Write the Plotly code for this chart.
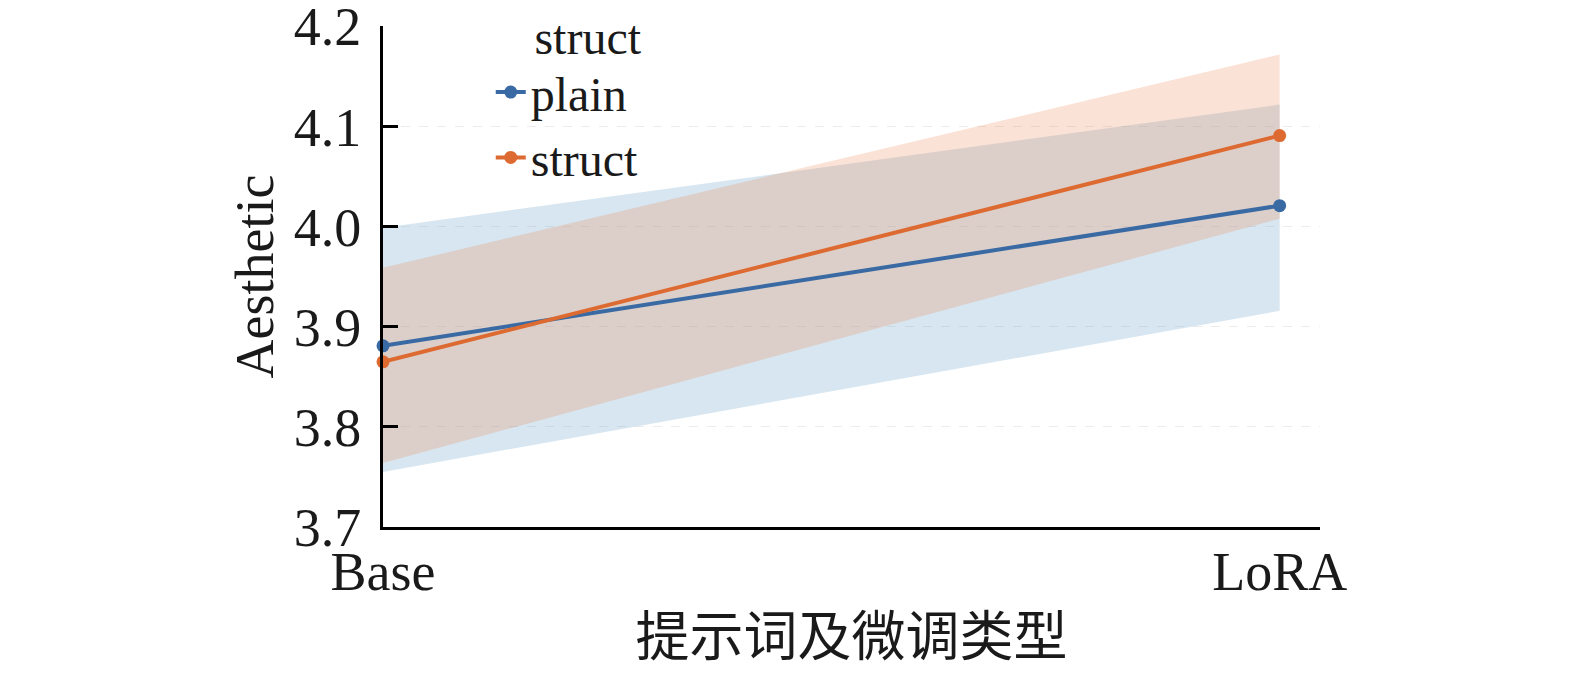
import plotly.graph_objects as go

categories = ["Base", "LoRA"]
x_pos = [0, 1]
plain_mean = [3.881, 4.021]
plain_low = [3.755, 3.916]
plain_high = [3.999, 4.122]
struct_mean = [3.865, 4.091]
struct_low = [3.764, 4.008]
struct_high = [3.959, 4.172]
y_ticks = [3.7, 3.8, 3.9, 4.0, 4.1, 4.2]
y_ticktext = ["3.7", "3.8", "3.9", "4.0", "4.1", "4.2"]

BLUE = "#3a6aa3"
ORANGE = "#dd6a30"
BLUE_FILL = "rgba(110,165,200,0.28)"
ORANGE_FILL = "rgba(238,135,85,0.24)"
FONT = "Liberation Serif, Times New Roman, Noto Sans CJK SC, serif"

fig = go.Figure()

# bands
fig.add_trace(go.Scatter(x=x_pos, y=plain_high, mode="lines", line=dict(width=0),
                         showlegend=False, hoverinfo="skip"))
fig.add_trace(go.Scatter(x=x_pos, y=plain_low, mode="lines", line=dict(width=0),
                         fill="tonexty", fillcolor=BLUE_FILL, showlegend=False, hoverinfo="skip"))
fig.add_trace(go.Scatter(x=x_pos, y=struct_high, mode="lines", line=dict(width=0),
                         showlegend=False, hoverinfo="skip"))
fig.add_trace(go.Scatter(x=x_pos, y=struct_low, mode="lines", line=dict(width=0),
                         fill="tonexty", fillcolor=ORANGE_FILL, showlegend=False, hoverinfo="skip"))

# lines
fig.add_trace(go.Scatter(x=x_pos, y=plain_mean, mode="lines+markers", name="plain",
                         line=dict(color=BLUE, width=4), marker=dict(size=13, color=BLUE),
                         cliponaxis=False))
fig.add_trace(go.Scatter(x=x_pos, y=struct_mean, mode="lines+markers", name="struct",
                         line=dict(color=ORANGE, width=4), marker=dict(size=13, color=ORANGE),
                         cliponaxis=False))

fig.update_layout(
    width=1559, height=660,
    margin=dict(l=375, r=247, t=18, b=141, autoexpand=False),
    paper_bgcolor="white", plot_bgcolor="white",
    font=dict(family=FONT, size=54, color="#1a1a1a"),
    showlegend=True,
    legend=dict(
        x=0.115, y=1.068, xanchor="left", yanchor="top",
        bgcolor="rgba(0,0,0,0)", traceorder="normal",
        font=dict(size=48, family=FONT),
        title=dict(text="struct", side="top right", font=dict(size=48, family=FONT)),
        tracegroupgap=0, itemwidth=30,
    ),
    xaxis=dict(
        range=[0, 1.045], tickmode="array", tickvals=x_pos, ticktext=categories,
        showline=True, linecolor="black", linewidth=3, ticks="", showgrid=False,
        zeroline=False, tickfont=dict(size=54, family=FONT), automargin=False,
        title=dict(text="提示词及微调类型", font=dict(size=54, family=FONT), standoff=22),
        ticklabelstandoff=-5, ticklabeloverflow="allow",
    ),
    yaxis=dict(
        range=[3.7, 4.2005], tickmode="array", tickvals=y_ticks, ticktext=y_ticktext,
        showline=True, linecolor="black", linewidth=3, ticks="inside", ticklen=15,
        tickwidth=3, tickcolor="black", showgrid=True, gridcolor="#ececec",
        griddash="dash", gridwidth=1, zeroline=False, automargin=False,
        tickfont=dict(size=54, family=FONT), ticklabelstandoff=8,
        ticklabeloverflow="allow",
        title=dict(text="Aesthetic", font=dict(size=54, family=FONT), standoff=3),
    ),
)

fig.write_html("out.html")
